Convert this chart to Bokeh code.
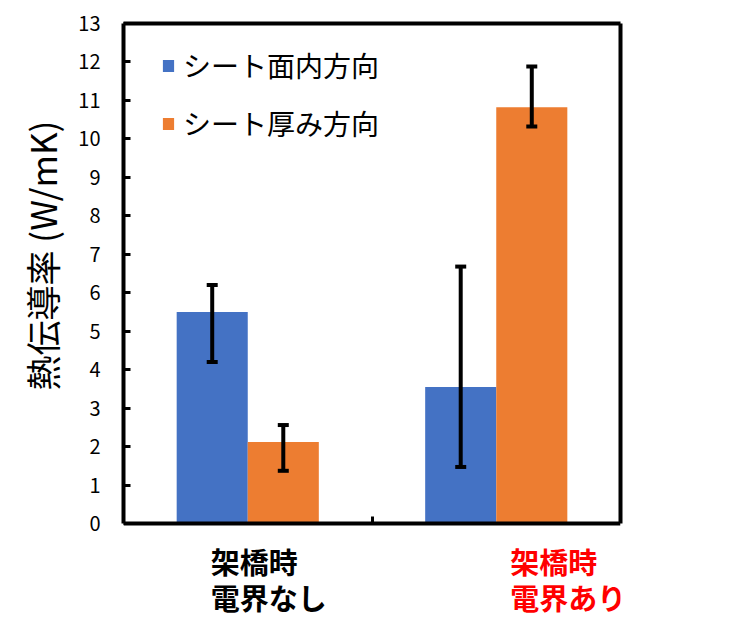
from bokeh.plotting import figure
from bokeh.models import (Range1d, FixedTicker, Legend, LegendItem, Whisker,
                          ColumnDataSource, TeeHead, LinearAxis, Title)
from bokeh.core.properties import value
from bokeh.embed import file_html
from bokeh.resources import INLINE

# ---- data ----
categories = ["架橋時\n電界なし", "架橋時\n電界あり"]
category_label_colors = ["#000000", "#FF0000"]
series_names = ["シート面内方向", "シート厚み方向"]
inplane = [5.5, 3.55]
inplane_err_low = [4.2, 1.47]
inplane_err_high = [6.2, 6.68]
thickness = [2.12, 10.82]
thickness_err_low = [1.37, 10.32]
thickness_err_high = [2.56, 11.88]
y_ticks = list(range(0, 14))
y_title = "熱伝導率 (W/mK)"

# ---- style ----
FONT = "Noto Sans CJK JP"
BLUE = "#4472C4"
ORANGE = "#ED7D31"
BAR_W = 0.286
label_x_offsets = [-37, 14]
AXIS_PX = 500        # pixel height of the 0..13 value span
BELOW_PX = 109       # room under the value axis for the category labels

n = len(categories)
centers = [i + 0.5 for i in range(n)]
y_min, y_max = y_ticks[0], y_ticks[-1]
y_start = y_min - (y_max - y_min) * BELOW_PX / AXIS_PX

p = figure(width=753, height=632,
           x_range=Range1d(0, n), y_range=Range1d(y_start, y_max),
           x_axis_location=None,
           output_backend="svg", toolbar_location=None,
           min_border_left=123, min_border_right=133,
           min_border_top=23, min_border_bottom=0)
p.background_fill_color = "white"
p.border_fill_color = "white"
p.outline_line_color = None
p.grid.visible = False

src_a = ColumnDataSource(dict(x=[c - BAR_W / 2 for c in centers], top=inplane,
                              lo=inplane_err_low, hi=inplane_err_high))
src_b = ColumnDataSource(dict(x=[c + BAR_W / 2 for c in centers], top=thickness,
                              lo=thickness_err_low, hi=thickness_err_high))

r_a = p.vbar(x="x", top="top", bottom=y_min, width=BAR_W, source=src_a,
             fill_color=BLUE, line_color=None)
r_b = p.vbar(x="x", top="top", bottom=y_min, width=BAR_W, source=src_b,
             fill_color=ORANGE, line_color=None)

for src in (src_a, src_b):
    w = Whisker(base="x", upper="hi", lower="lo", source=src, level="annotation",
                line_color="black", line_width=4,
                upper_head=TeeHead(size=11, line_width=4, line_color="black"),
                lower_head=TeeHead(size=11, line_width=4, line_color="black"))
    p.add_layout(w)

# value axis (left)
yax = p.yaxis[0]
yax.ticker = FixedTicker(ticks=y_ticks)
yax.bounds = (y_min, y_max)
yax.axis_line_width = 4
yax.major_tick_in = 7
yax.major_tick_out = 0
yax.major_tick_line_width = 3
yax.minor_tick_line_color = None
yax.major_label_text_font = FONT
yax.major_label_text_font_size = "20px"
yax.major_label_text_color = "black"
yax.major_label_standoff = 23

# value-axis title, placed beside the 0..13 span rather than the whole frame
p.add_layout(Title(text=y_title, align="left", offset=242, standoff=18,
                   text_font=FONT, text_font_size="35px",
                   text_font_style="normal", text_color="black"), "left")

# box: right and top edges
right_ax = LinearAxis(bounds=(y_min, y_max), ticker=FixedTicker(ticks=[]),
                      axis_line_width=4, major_tick_line_color=None,
                      minor_tick_line_color=None,
                      major_label_text_font_size="0px")
p.add_layout(right_ax, "right")
top_ax = LinearAxis(ticker=FixedTicker(ticks=[]), axis_line_width=4,
                    major_tick_line_color=None, minor_tick_line_color=None,
                    major_label_text_font_size="0px")
p.add_layout(top_ax, "above")

# category axis line at value 0, with ticks on the category boundaries
bottom_ax = LinearAxis(fixed_location=y_min,
                       ticker=FixedTicker(ticks=list(range(1, n))),
                       axis_line_width=4, major_tick_in=7, major_tick_out=0,
                       major_tick_line_width=3, minor_tick_line_color=None,
                       major_label_overrides={b: "" for b in range(1, n)},
                       major_label_standoff=0)
p.add_layout(bottom_ax, "below")

# category labels
lab_src = ColumnDataSource(dict(x=centers, y=[y_min] * n, text=categories,
                                color=category_label_colors,
                                xoff=label_x_offsets))
p.text(x="x", y="y", text="text", source=lab_src, x_offset="xoff",
       y_offset=16, text_align="left", text_baseline="top",
       text_font=value(FONT), text_font_size="29px",
       text_font_style="bold", text_color="color", text_line_height=0.88)

legend = Legend(items=[LegendItem(label=series_names[0], renderers=[r_a]),
                       LegendItem(label=series_names[1], renderers=[r_b])],
                location=(38, 380 + BELOW_PX), margin=0, padding=0, spacing=18,
                label_height=36, glyph_width=14, glyph_height=15,
                label_standoff=8, label_text_font=FONT,
                label_text_font_size="28px", label_text_color="black",
                border_line_color=None, background_fill_alpha=0)
p.add_layout(legend)

open("out.html", "w").write(file_html(p, INLINE))
